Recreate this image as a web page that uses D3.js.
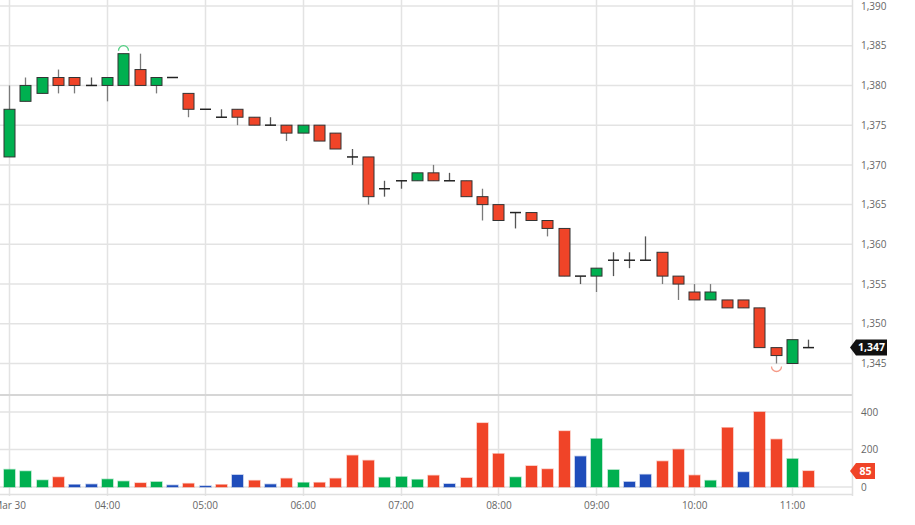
<!DOCTYPE html>
<html><head><meta charset="utf-8">
<script src="https://cdn.jsdelivr.net/npm/d3@7"></script>
<style>html,body{margin:0;padding:0;background:#fff;overflow:hidden}svg{display:block;font-family:"Open Sans",sans-serif}</style>
</head><body>
<svg id="c" width="915" height="525"></svg>
<script>
const times = ["03:00","03:10","03:20","03:30","03:40","03:50","04:00","04:10","04:20","04:30","04:40","04:50",
"05:00","05:10","05:20","05:30","05:40","05:50","06:00","06:10","06:20","06:30","06:40","06:50",
"07:00","07:10","07:20","07:30","07:40","07:50","08:00","08:10","08:20","08:30","08:40","08:50",
"09:00","09:10","09:20","09:30","09:40","09:50","10:00","10:10","10:20","10:30","10:40","10:50","11:00","11:10"];
const open  = [1371,1378,1379,1381,1381,1380,1380,1380,1382,1380,1381,1379,1377,1376,1377,1376,1375,1375,1374,1375,1374,1371,1371,1367,1368,1368,1369,1368,1368,1366,1365,1364,1364,1363,1362,1356,1356,1358,1358,1358,1359,1356,1354,1353,1353,1353,1352,1347,1345,1347];
const high  = [1380,1381,1381,1382,1381,1381,1381,1384,1384,1381,1381,1379,1377,1377,1377,1376,1376,1375,1375,1375,1374,1372,1371,1368,1368,1369,1370,1369,1368,1367,1365,1364,1364,1363,1362,1356,1357,1359,1359,1361,1359,1356,1355,1355,1353,1353,1352,1347,1348,1348];
const low   = [1371,1378,1379,1379,1379,1380,1378,1380,1380,1379,1381,1376,1377,1376,1375,1375,1375,1373,1374,1373,1372,1370,1365,1366,1367,1368,1368,1368,1366,1363,1363,1362,1363,1361,1356,1355,1354,1356,1357,1358,1355,1353,1353,1353,1352,1352,1347,1345,1345,1347];
const close = [1377,1380,1381,1380,1380,1380,1381,1384,1380,1381,1381,1377,1377,1376,1376,1375,1375,1374,1375,1373,1372,1371,1366,1367,1368,1369,1368,1368,1366,1365,1363,1364,1363,1362,1356,1356,1357,1358,1358,1358,1356,1355,1353,1354,1352,1352,1347,1346,1348,1347];
const volume = [93,84,36,52,12,14,41,30,21,27,9,18,5,12,64,34,14,45,23,23,45,168,141,50,54,39,61,16,48,341,177,52,112,95,298,163,257,91,27,66,137,200,62,34,316,79,400,254,150,85];
const priceTicks = [1345,1350,1355,1360,1365,1370,1375,1380,1385,1390];
const volumeTicks = [0,200,400];
const timeTicks = ["03:00","04:00","05:00","06:00","07:00","08:00","09:00","10:00","11:00"];
const timeTickLabels = ["Mar 30","04:00","05:00","06:00","07:00","08:00","09:00","10:00","11:00"];
const lastPrice = 1347, lastVolume = 85;

const GREEN="#00b050", RED="#f04428", BLUE="#1f4dbb", GRID="#e3e3e3", TXT="#666";
const parse = s => { const [h,m] = s.split(":").map(Number); return new Date(Date.UTC(2021,2,30,h,m)); };
const data = times.map((t,i)=>({t:parse(t),o:open[i],h:high[i],l:low[i],c:close[i],v:volume[i],
  dir: (i===0 ? Math.sign(close[i]-open[i]) : Math.sign(close[i]-close[i-1]))}));

const svg = d3.select("#c");
const AX = 852;
const x = d3.scaleUtc().domain([parse("03:00"), parse("11:00")]).range([9, 792]);
const y = d3.scaleLinear().domain([1345,1390]).range([363.5, 6]);
const yv = d3.scaleLinear().domain([0,400]).range([487, 412]);

// grid
const g = svg.append("g");
g.selectAll(".vg").data(timeTicks).join("line")
  .attr("x1",d=>Math.round(x(parse(d)))+0.5).attr("x2",d=>Math.round(x(parse(d)))+0.5)
  .attr("y1",0).attr("y2",496).attr("stroke",GRID).attr("stroke-width",1.5);
g.selectAll(".hg").data(priceTicks).join("line")
  .attr("x1",0).attr("x2",AX).attr("y1",d=>y(d)).attr("y2",d=>y(d)).attr("stroke",GRID).attr("stroke-width",1.5);
g.selectAll(".vhg").data(volumeTicks).join("line")
  .attr("x1",0).attr("x2",AX).attr("y1",d=>yv(d)).attr("y2",d=>yv(d)).attr("stroke",GRID).attr("stroke-width",1.5);
// separators
g.append("line").attr("x1",0).attr("x2",AX).attr("y1",395).attr("y2",395).attr("stroke","#d6d6d6").attr("stroke-width",2);
g.append("line").attr("x1",0).attr("x2",AX).attr("y1",494.5).attr("y2",494.5).attr("stroke","#e0e0e0").attr("stroke-width",1.5);
g.append("line").attr("x1",AX+0.5).attr("x2",AX+0.5).attr("y1",0).attr("y2",496).attr("stroke","#e0e0e0").attr("stroke-width",1.5);

// clip
svg.append("clipPath").attr("id","pc").append("rect").attr("x",0).attr("y",0).attr("width",AX).attr("height",394);
const pg = svg.append("g").attr("clip-path","url(#pc)");
const bw = 11;
// wicks
pg.selectAll(".wick").data(data).join("line")
  .attr("x1",d=>Math.round(x(d.t))+0.5).attr("x2",d=>Math.round(x(d.t))+0.5)
  .attr("y1",d=>y(d.h)).attr("y2",d=>y(d.l))
  .attr("stroke",d=>d.o===d.c?"#555":"#7a7a7a").attr("stroke-width",1.3);
// bodies
pg.selectAll(".body").data(data.filter(d=>d.o!==d.c)).join("rect")
  .attr("x",d=>Math.round(x(d.t))-bw/2+0.5).attr("width",bw)
  .attr("y",d=>y(Math.max(d.o,d.c))).attr("height",d=>y(Math.min(d.o,d.c))-y(Math.max(d.o,d.c)))
  .attr("fill",d=>d.c>d.o?GREEN:RED).attr("stroke","#333").attr("stroke-width",1);
// dojis
pg.selectAll(".doji").data(data.filter(d=>d.o===d.c)).join("line")
  .attr("x1",d=>Math.round(x(d.t))-bw/2+0.5).attr("x2",d=>Math.round(x(d.t))+bw/2+0.5)
  .attr("y1",d=>y(d.c)).attr("y2",d=>y(d.c)).attr("stroke","#222").attr("stroke-width",1.5);
// high / low markers
const hiIdx = d3.maxIndex(data,d=>d.h), loIdx = d3.minIndex(data,d=>d.l);
const hx = Math.round(x(data[hiIdx].t))+0.5, hy = y(data[hiIdx].h)-3;
pg.append("path").attr("d",`M${hx-5},${hy} A5,5 0 0 1 ${hx+5},${hy}`).attr("fill","none").attr("stroke","#4fcf80").attr("stroke-width",1.3);
const lx = Math.round(x(data[loIdx].t))+0.5, ly = y(data[loIdx].l)+3;
pg.append("path").attr("d",`M${lx-5},${ly} A5,5 0 0 0 ${lx+5},${ly}`).attr("fill","none").attr("stroke","#f59a88").attr("stroke-width",1.3);

// volume
const vg = svg.append("g");
vg.selectAll(".vol").data(data).join("rect")
  .attr("x",d=>Math.round(x(d.t))-bw/2+0.5).attr("width",bw)
  .attr("y",d=>yv(d.v)).attr("height",d=>yv(0)-yv(d.v))
  .attr("fill",d=>d.dir>0?GREEN:d.dir<0?RED:BLUE)
  .attr("stroke",d=>d.dir>0?GREEN:d.dir<0?RED:BLUE).attr("stroke-opacity",0.35).attr("stroke-width",1.5);

// axes
const yAxis = d3.axisRight(y).tickValues(priceTicks).tickFormat(d3.format(",")).tickSize(0).tickPadding(9);
const ya = svg.append("g").attr("transform",`translate(${AX},0)`).call(yAxis);
const yvAxis = d3.axisRight(yv).tickValues(volumeTicks).tickFormat(d3.format(",")).tickSize(0).tickPadding(9);
const yva = svg.append("g").attr("transform",`translate(${AX},0)`).call(yvAxis);
const xAxis = d3.axisBottom(x).tickValues(timeTicks.map(parse)).tickFormat((d,i)=>timeTickLabels[i]).tickSize(0).tickPadding(7);
const xa = svg.append("g").attr("transform",`translate(0,495)`).call(xAxis);
[ya,yva,xa].forEach(a=>{a.select(".domain").remove();a.selectAll("text").attr("fill",TXT).style("font-size","10px").style("font-family","'Open Sans',sans-serif");});

// last price tag
function tag(yPos, label, color){
  const t = svg.append("g");
  const w = label.length>2?31:19;
  t.append("path").attr("d",`M${AX-2},${yPos} L${AX+4},${yPos-8} L${AX+4+w},${yPos-8} L${AX+4+w},${yPos+8} L${AX+4},${yPos+8} Z`).attr("fill",color);
  t.append("text").attr("x",AX+4+w/2).attr("y",yPos).attr("dy","0.35em").attr("text-anchor","middle")
    .attr("fill","#fff").style("font-size","10.5px").style("font-weight","bold").text(label);
}
tag(y(lastPrice), d3.format(",")(lastPrice), "#111");
tag(yv(lastVolume), String(lastVolume), RED);
</script>
</body></html>
